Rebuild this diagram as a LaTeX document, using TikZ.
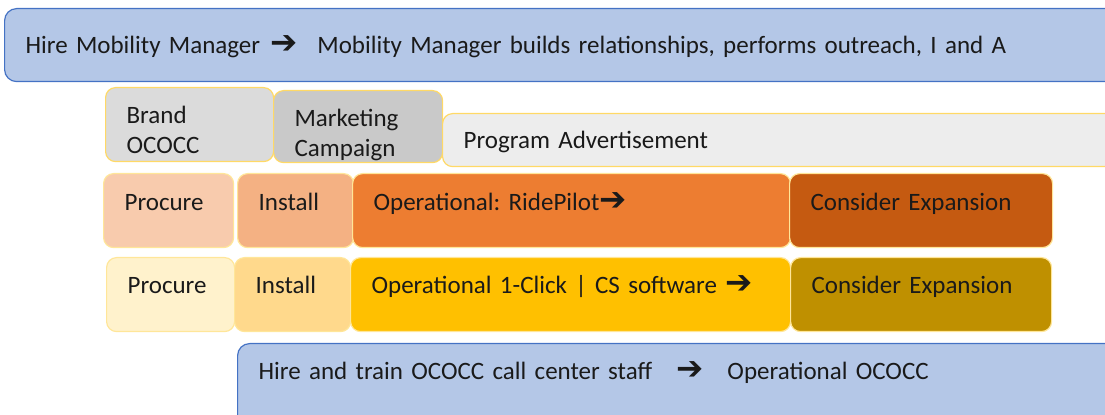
\documentclass[tikz,border=0pt]{standalone}
\usepackage{fontspec}
\setmainfont{Carlito}
\newfontfamily\arrowfont{DejaVu Sans}
\newcommand{\rarr}{\scalebox{1.3}{\arrowfont\bfseries ➔}}
\frenchspacing

\definecolor{barfill}{HTML}{B4C7E7}
\definecolor{barline}{HTML}{4472C4}
\definecolor{goldline}{HTML}{FFD966}
\definecolor{paleline}{HTML}{FFE699}
\definecolor{brandgray}{HTML}{DBDBDB}
\definecolor{mktgray}{HTML}{C9C9C9}
\definecolor{advgray}{HTML}{EDEDED}
\definecolor{orgA}{HTML}{F8CBAD}
\definecolor{orgB}{HTML}{F4B183}
\definecolor{orgC}{HTML}{ED7D31}
\definecolor{orgD}{HTML}{C55A11}
\definecolor{yelA}{HTML}{FFF2CC}
\definecolor{yelB}{HTML}{FFD98C}
\definecolor{yelC}{HTML}{FFC000}
\definecolor{yelD}{HTML}{BF9000}
\definecolor{textgray}{HTML}{1A1A1A}

\begin{document}
\begin{tikzpicture}[
    x=0.5pt, y=-0.5pt,
    font=\fontsize{12.5pt}{15pt}\selectfont,
    text=textgray
]
\tikzset{
    blk/.style = {anchor=north west, align=left, line width=0.6pt, inner xsep=10.5pt, inner ysep=0pt},
    barbox/.style = {blk, rounded corners=6pt, draw=barline, fill=barfill},
    phasebox/.style = {blk, rounded corners=5pt, draw=paleline},
    sz/.style n args = {3}{text width=#1pt, text height=#2pt, text depth=#3pt}
}
\useasboundingbox (0,0) rectangle (1105,415);

% mobility manager
\node[barbox, sz={542}{22.5}{14}] at (4,8) (mgr)
    {Hire Mobility Manager\hspace{5pt}\rarr\hspace{10pt}Mobility Manager builds relationships, performs outreach, I and A};

% branding and marketing
\node[phasebox, draw=goldline, fill=brandgray, sz={63}{18}{19}] at (105,87) (brand) {Brand\\OCOCC};
\node[phasebox, draw=goldline, fill=mktgray, sz={63.5}{18}{18}] at (273,90) (mkt) {Marketing\\Campaign};
\node[phasebox, draw=goldline, fill=advgray, sz={323}{17.5}{9}] at (442,113) (adv) {Program Advertisement};

% RidePilot row
\node[phasebox, fill=orgA, sz={44}{18.5}{18.5}] at (103,173) (rpro) {Procure};
\node[phasebox, fill=orgB, sz={37}{18.5}{18.5}] at (237,173) (rins) {Install};
\node[phasebox, fill=orgC, sz={198}{18.5}{18.5}] at (352,173) (rop) {Operational: RidePilot\rarr};
\node[phasebox, fill=orgD, sz={110.5}{18.5}{18.5}] at (789,173) (rexp) {Consider Expansion};

% 1-Click row
\node[phasebox, fill=yelA, sz={43}{18}{19}] at (106,257) (cpro) {Procure};
\node[phasebox, fill=yelB, sz={37}{18}{19}] at (234,257) (cins) {Install};
\node[phasebox, fill=yelC, sz={199}{18}{19}] at (350,257) (cop) {Operational 1-Click | CS software \rarr};
\node[phasebox, fill=yelD, sz={109.5}{18}{19}] at (790,257) (cexp) {Consider Expansion};

% call center
\node[barbox, sz={425.5}{18}{30.5}] at (237,343) (call)
    {Hire and train OCOCC call center staff\hspace{12pt}\rarr\hspace{12pt}Operational OCOCC};
\end{tikzpicture}
\end{document}
